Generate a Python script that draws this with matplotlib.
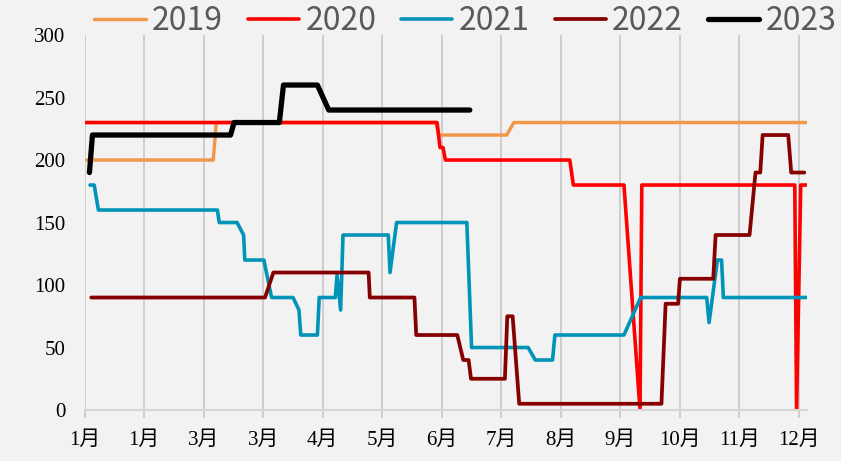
import matplotlib
matplotlib.use("Agg")
import matplotlib.pyplot as plt

# x positions are in tick units (0 = first "1月" gridline, 12 = "12月")
tick_labels = ['1月', '1月', '3月', '3月', '4月', '5月', '6月',
               '7月', '8月', '9月', '10月', '11月', '12月']

x_2019 = [0.03, 2.16, 2.21, 5.90, 5.95, 7.09, 7.21, 12.13]
y_2019 = [200, 200, 230, 230, 220, 220, 230, 230]

x_2020 = [0.02, 5.92, 5.97, 6.02, 6.06, 8.15, 8.21, 9.06, 9.33, 9.36,
          11.93, 11.96, 12.03, 12.13]
y_2020 = [230, 230, 210, 210, 200, 200, 180, 180, 0, 180,
          180, 0, 180, 180]

x_2021 = [0.09, 0.16, 0.23, 2.23, 2.26, 2.56, 2.67, 2.69, 3.01, 3.14,
          3.50, 3.60, 3.63, 3.91, 3.94, 4.21, 4.24, 4.30, 4.34, 5.10,
          5.13, 5.24, 6.42, 6.50, 7.45, 7.57, 7.86, 7.90, 9.06, 9.34,
          10.45, 10.49, 10.63, 10.70, 10.73, 12.13]
y_2021 = [180, 180, 160, 160, 150, 150, 140, 120, 120, 90,
          90, 80, 60, 60, 90, 90, 108, 80, 140, 140,
          110, 150, 150, 50, 50, 40, 40, 60, 60, 90,
          90, 70, 120, 120, 90, 90]

x_2022 = [0.11, 3.03, 3.17, 4.77, 4.79, 5.54, 5.57, 6.26, 6.36, 6.45,
          6.49, 7.06, 7.10, 7.19, 7.30, 9.69, 9.76, 9.97, 10.00, 10.56,
          10.60, 11.17, 11.27, 11.35, 11.39, 11.82, 11.87, 12.09]
y_2022 = [90, 90, 110, 110, 90, 90, 60, 60, 40, 40,
          25, 25, 75, 75, 5, 5, 85, 85, 105, 105,
          140, 140, 190, 190, 220, 220, 190, 190]

x_2023 = [0.08, 0.13, 2.45, 2.51, 3.27, 3.34, 3.91, 4.10, 6.47]
y_2023 = [190, 220, 220, 230, 230, 260, 260, 240, 240]

series = [
    ('2019', x_2019, y_2019, '#F0984A', 2.5),
    ('2020', x_2020, y_2020, '#FF0000', 2.6),
    ('2021', x_2021, y_2021, '#0094B8', 2.6),
    ('2022', x_2022, y_2022, '#870000', 2.7),
    ('2023', x_2023, y_2023, '#000000', 3.8),
]

bg = '#F2F2F2'
fig = plt.figure(figsize=(8.41, 4.61), dpi=100, facecolor=bg)
ax = fig.add_axes([0.1007, 0.1106, 0.8585, 0.8134], facecolor=bg)

for name, xs, ys, color, lw in series:
    ax.plot(xs, ys, color=color, linewidth=lw, label=name,
            solid_joinstyle='round', solid_capstyle='round')

ax.set_xlim(0, 12.13)
ax.set_ylim(0, 300)
ax.set_xticks(range(len(tick_labels)))
ax.set_xticklabels(tick_labels)
ax.set_yticks(range(0, 301, 50))

ax.grid(axis='x', color='#C4C4C4', linewidth=1.1)
ax.grid(axis='y', visible=False)
for side in ['left', 'right', 'top']:
    ax.spines[side].set_visible(False)
ax.spines['bottom'].set_color('#D6D6D6')
ax.spines['bottom'].set_linewidth(1.5)

label_font = ['Liberation Serif', 'Noto Sans CJK SC']
ax.tick_params(axis='x', direction='out', length=6, width=1.1,
               color='#C4C4C4', pad=9, labelsize=15)
ax.tick_params(axis='y', length=0, pad=14, labelsize=15)
for lab in ax.get_xticklabels() + ax.get_yticklabels():
    lab.set_family(label_font)
    lab.set_color('#000000')

fig.legend(loc='center', bbox_to_anchor=(0.5535, 0.955), ncol=5,
           frameon=False, prop={'family': 'Noto Sans CJK SC', 'size': 23},
           labelcolor='#595959', handlelength=1.6, handletextpad=0.2,
           columnspacing=0.78, borderaxespad=0)

fig.savefig('out.png', dpi=100, facecolor=bg)
